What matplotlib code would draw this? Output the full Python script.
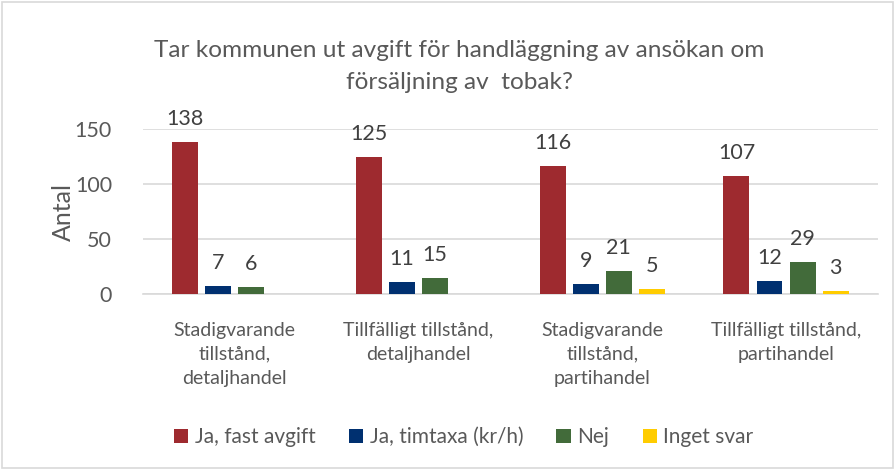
import matplotlib
matplotlib.use("Agg")
import matplotlib.pyplot as plt
from matplotlib.patches import Rectangle
import numpy as np

categories = ["Stadigvarande\ntillstånd,\ndetaljhandel",
              "Tillfälligt tillstånd,\ndetaljhandel",
              "Stadigvarande\ntillstånd,\npartihandel",
              "Tillfälligt tillstånd,\npartihandel"]
series_names = ["Ja, fast avgift", "Ja, timtaxa (kr/h)", "Nej", "Inget svar"]
ja_fast = [138, 125, 116, 107]
ja_timtaxa = [7, 11, 9, 12]
nej = [6, 15, 21, 29]
inget_svar = [0, 0, 5, 3]
colors = ["#9E2A2F", "#003070", "#426B3A", "#FFCC00"]
yticks = [0, 50, 100, 150]

plt.rcParams['font.family'] = ['Lato', 'DejaVu Sans']
txt = "#595959"

fig = plt.figure(figsize=(8.95, 4.69), dpi=100)
fig.patches.append(Rectangle((0.002, 0.002), 0.996, 0.994, transform=fig.transFigure,
                             fill=False, edgecolor="#D9D9D9", linewidth=1.2))
ax = fig.add_axes([0.1593, 0.3731, 0.8217, 0.3518])

data = [ja_fast, ja_timtaxa, nej, inget_svar]
x = np.arange(len(categories))
step = 0.18
width = 0.141
for i, (vals, col, name) in enumerate(zip(data, colors, series_names)):
    pos = x + (i - 1.5) * step
    ax.bar(pos, vals, width=width, color=col, label=name, zorder=3)
    for p, v in zip(pos, vals):
        if v > 0:
            ax.annotate(str(v), (p, v), xytext=(0, 13), textcoords="offset pixels",
                        ha="center", va="bottom", fontsize=15.5, color="#404040",
                        annotation_clip=False)

ax.set_xlim(-0.5, 3.5)
ax.set_ylim(0, 150)
ax.set_yticks(yticks)
ax.set_yticklabels([str(t) for t in yticks], fontsize=15.5, color=txt)
ax.yaxis.grid(True, color="#D9D9D9", linewidth=1.2, zorder=0)
ax.set_axisbelow(True)
for s in ax.spines.values():
    s.set_visible(False)
ax.tick_params(axis="y", length=0, pad=22)
ax.tick_params(axis="x", length=0, pad=20)
ax.set_xticks(x)
ax.set_xticklabels(categories, fontsize=14, color=txt, linespacing=1.5, va="top")
ax.set_ylabel("Antal", fontsize=18, color=txt, labelpad=0)
ax.axhline(0, color="#D9D9D9", linewidth=1.2, zorder=2, clip_on=False)

fig.text(0.513, 0.858, "Tar kommunen ut avgift för handläggning av ansökan om\nförsäljning av  tobak?",
         ha="center", va="center", fontsize=17.6, color=txt, linespacing=1.6)

leg = fig.legend(loc="center", bbox_to_anchor=(0.518, 0.068), ncol=4, frameon=False,
                 fontsize=15, handlelength=0.7, handleheight=0.7, handletextpad=0.3,
                 columnspacing=1.6, labelcolor=txt)

fig.savefig("out.png", dpi=100)
